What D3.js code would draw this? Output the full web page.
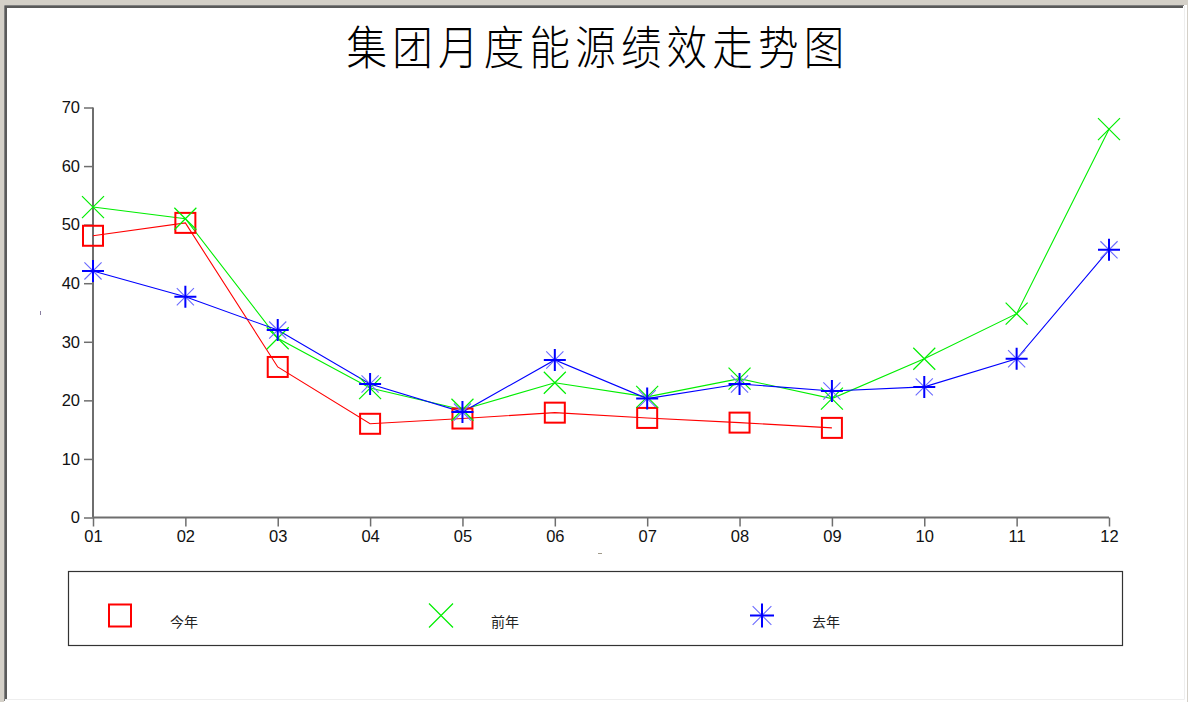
<!DOCTYPE html>
<html>
<head>
<meta charset="utf-8">
<script src="https://cdn.jsdelivr.net/npm/d3@7"></script>
<style>
  html, body { margin: 0; padding: 0; background: #d4d0c8; }
  svg { display: block; }
</style>
</head>
<body>
<svg id="chart" width="1188" height="702"></svg>
<script>
// Monthly energy performance trend for the group: this year vs. two years ago vs. last year
const months = ["01", "02", "03", "04", "05", "06", "07", "08", "09", "10", "11", "12"];
const thisYear = [48.1, 50.3, 25.7, 16.0, 16.9, 17.9, 17.0, 16.2, 15.3];
const yearBeforeLast = [53.0, 51.0, 30.6, 22.1, 18.4, 23.0, 20.6, 23.7, 20.3, 27.1, 34.8, 66.3];
const lastYear = [42.1, 37.7, 32.0, 22.8, 18.0, 26.9, 20.3, 22.8, 21.6, 22.3, 27.1, 45.7];
const yTicks = [0, 10, 20, 30, 40, 50, 60, 70];
const titleText = "集团月度能源绩效走势图";

const series = [
  { name: "今年", values: thisYear, color: "#ff0000", marker: "square" },
  { name: "前年", values: yearBeforeLast, color: "#00ee00", marker: "cross" },
  { name: "去年", values: lastYear, color: "#0000ff", marker: "star" }
];

const svg = d3.select("#chart");
const W = 1188, H = 702;

// Sunken panel frame
svg.append("rect").attr("x", 0).attr("y", 0).attr("width", W).attr("height", H).attr("fill", "#d4d0c8");
svg.append("rect").attr("x", 4).attr("y", 5).attr("width", W - 5).attr("height", H - 5).attr("fill", "#ffffff");
svg.append("rect").attr("x", 7).attr("y", 8).attr("width", W - 11).attr("height", H - 10).attr("fill", "#ffffff");
svg.append("path").attr("d", `M4.5,${H - 1} V5.5 H${W - 4}`).attr("fill", "none").attr("stroke", "#808080").attr("stroke-width", 1);
svg.append("path").attr("d", `M6,${H - 2} V7 H${W - 5}`).attr("fill", "none").attr("stroke", "#5a5a5a").attr("stroke-width", 2);
svg.append("path").attr("d", `M${W - 3.5},6 V${H - 2.5} H5`).attr("fill", "none").attr("stroke", "#eeeeee").attr("stroke-width", 1);

// Title: slightly condensed, light glyphs
svg.append("text")
  .attr("transform", "translate(598,44) scale(0.88,1)")
  .attr("text-anchor", "middle").attr("dominant-baseline", "central")
  .attr("font-family", "'Noto Sans CJK SC', sans-serif")
  .attr("font-weight", 300)
  .attr("font-size", 46)
  .attr("letter-spacing", 6)
  .attr("fill", "#000")
  .text(titleText);

// Scales
const x = d3.scalePoint().domain(months).range([93, 1109]);
const y = d3.scaleLinear().domain([0, 70]).range([517.5, 107.5]);

const axisColor = "#6e6e6e";
const tickFont = "'Liberation Sans', Arial, sans-serif";

const yAxis = svg.append("g")
  .attr("transform", "translate(93,0)")
  .call(d3.axisLeft(y).tickValues(yTicks).tickSize(9).tickPadding(4).tickFormat(d3.format("d")));
const xAxis = svg.append("g")
  .attr("transform", "translate(0,517.5)")
  .call(d3.axisBottom(x).tickSize(9).tickPadding(4));

[yAxis, xAxis].forEach(g => {
  g.attr("font-size", 16.5).attr("font-family", tickFont);
  g.select(".domain").attr("stroke", axisColor).attr("stroke-width", 2);
  g.selectAll(".tick line").attr("stroke", axisColor).attr("stroke-width", 1.5);
  g.selectAll(".tick text")
    .attr("font-family", tickFont).attr("font-size", 16.5).attr("fill", "#111");
});
xAxis.select(".domain").attr("d", `M93,0H1109`);
yAxis.select(".domain").attr("d", `M0,107.5V517.5`);

// Empty axis-title placeholders
svg.append("rect").attr("x", 40).attr("y", 311).attr("width", 1).attr("height", 4).attr("fill", "#8a7fa0");
svg.append("rect").attr("x", 598).attr("y", 553).attr("width", 4).attr("height", 1).attr("fill", "#a09a8a");

// Marker drawing
function drawMarker(g, type, color, cx, cy, s) {
  if (type === "square") {
    g.append("rect")
      .attr("x", cx - s).attr("y", cy - s).attr("width", 2 * s).attr("height", 2 * s)
      .attr("fill", "none").attr("stroke", color).attr("stroke-width", 2);
  } else if (type === "cross") {
    g.append("path")
      .attr("d", `M${cx - s},${cy - s}L${cx + s},${cy + s}M${cx - s},${cy + s}L${cx + s},${cy - s}`)
      .attr("stroke", color).attr("stroke-width", 1.2).attr("fill", "none");
  } else {
    const d = s * 0.78;
    g.append("path")
      .attr("d", `M${cx - d},${cy - d}L${cx + d},${cy + d}M${cx - d},${cy + d}L${cx + d},${cy - d}`)
      .attr("stroke", "#6a6aff").attr("stroke-width", 1.1).attr("fill", "none");
    g.append("path")
      .attr("d", `M${cx - s},${cy}L${cx + s},${cy}M${cx},${cy - s}L${cx},${cy + s}`)
      .attr("stroke", color).attr("stroke-width", 2).attr("fill", "none");
  }
}

const line = d3.line().x((d, i) => x(months[i])).y(d => y(d));
const plot = svg.append("g");

series.forEach(s => {
  plot.append("path")
    .datum(s.values)
    .attr("d", line)
    .attr("fill", "none")
    .attr("stroke", s.color)
    .attr("stroke-width", 1.1);
});

series.forEach(s => {
  const g = plot.append("g");
  const size = s.marker === "square" ? 10 : 11;
  s.values.forEach((v, i) => drawMarker(g, s.marker, s.color, x(months[i]), y(v), size));
});

// Legend
const legend = svg.append("g");
legend.append("rect")
  .attr("x", 68.5).attr("y", 571.5).attr("width", 1054).attr("height", 74)
  .attr("fill", "#fff").attr("stroke", "#333").attr("stroke-width", 1.2);

const legendX = d3.scalePoint().domain(series.map(s => s.name)).range([120, 762]);
series.forEach(s => {
  const cx = legendX(s.name);
  const g = legend.append("g");
  drawMarker(g, s.marker, s.color, cx, 615.5, s.marker === "square" ? 11 : 12);
  g.append("text")
    .attr("x", cx + 50).attr("y", 621)
    .attr("dominant-baseline", "central")
    .attr("font-family", "'Noto Sans CJK SC', sans-serif")
    .attr("font-size", 14)
    .attr("fill", "#222")
    .text(s.name);
});
</script>
</body>
</html>
